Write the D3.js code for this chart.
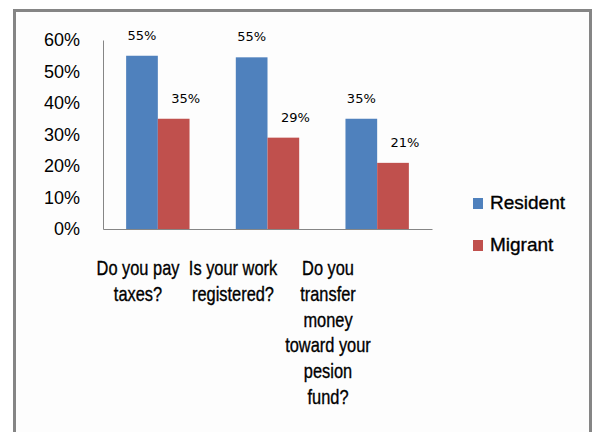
<!DOCTYPE html>
<html>
<head>
<meta charset="utf-8">
<script src="https://cdn.jsdelivr.net/npm/d3@7"></script>
<style>
  html, body { margin: 0; padding: 0; background: #ffffff; }
  svg { display: block; }
  .tick-label { font-family: "Liberation Sans", Arial, sans-serif; font-size: 18px; fill: #000; }
  .value-label { font-family: "DejaVu Sans", Verdana, sans-serif; font-size: 13px; fill: #000; }
  .cat-label { font-family: "Liberation Sans", Arial, sans-serif; font-size: 20px; fill: #000; stroke: #000; stroke-width: 0.35px; }
  .legend-label { font-family: "Liberation Sans", Arial, sans-serif; font-size: 19px; fill: #000; stroke: #000; stroke-width: 0.35px; }
</style>
</head>
<body>
<svg id="chart" width="595" height="432"></svg>
<script>
// Survey questions (each split into the lines it is printed on)
const categories = ["Do you pay taxes?", "Is your work registered?", "Do you transfer money toward your pesion fund?"];
const categoryLines = [
  ["Do you pay", "taxes?"],
  ["Is your work", "registered?"],
  ["Do you", "transfer", "money", "toward your", "pesion", "fund?"]
];
const seriesNames = ["Resident", "Migrant"];
const residentValues = [0.55, 0.545, 0.35];
const migrantValues = [0.35, 0.29, 0.21];
const tickValues = [0, 0.1, 0.2, 0.3, 0.4, 0.5, 0.6];
const colors = ["#4F81BD", "#C0504D"];

const seriesValues = [residentValues, migrantValues];
const rows = categories.map((c, i) => ({
  category: c,
  lines: categoryLines[i],
  values: seriesNames.map((s, j) => ({ series: s, value: seriesValues[j][i] }))
}));

const svg = d3.select("#chart");

// chart frame
svg.append("rect")
  .attr("x", 14.5).attr("y", 10.5)
  .attr("width", 576).attr("height", 440)
  .attr("fill", "#fdfdfd")
  .attr("stroke", "#858585")
  .attr("stroke-width", 3);

const plot = { left: 103, right: 432, top: 40, bottom: 229 };

const y = d3.scaleLinear().domain([0, 0.6]).range([plot.bottom, plot.top]);
const x0 = d3.scaleBand().domain(categories).range([plot.left, plot.right]).padding(0);
const x1 = d3.scaleBand().domain(seriesNames).range([0, x0.bandwidth()])
  .paddingInner(0).paddingOuter(0.73);
const color = d3.scaleOrdinal().domain(seriesNames).range(colors);
const fmt = v => Math.round(v * 100) + "%";

// y axis: labels only, plus the vertical axis line
const yAxis = svg.append("g")
  .attr("transform", `translate(${plot.left},0)`)
  .call(d3.axisLeft(y).tickValues(tickValues).tickFormat(d3.format(".0%"))
    .tickSize(0).tickPadding(23));
yAxis.select(".domain").attr("stroke", "#868686").attr("stroke-width", 1);
yAxis.selectAll(".tick text").attr("class", "tick-label").attr("font-family", null).attr("font-size", null);

// bars
const groups = svg.append("g").selectAll("g")
  .data(rows).join("g")
  .attr("transform", d => `translate(${x0(d.category)},0)`);

groups.selectAll("rect")
  .data(d => d.values).join("rect")
  .attr("x", d => x1(d.series))
  .attr("y", d => y(d.value))
  .attr("width", x1.bandwidth())
  .attr("height", d => y(0) - y(d.value))
  .attr("fill", d => color(d.series));

// value labels; the Migrant labels sit a little to the right of their bars
groups.selectAll("text")
  .data(d => d.values).join("text")
  .attr("class", "value-label")
  .attr("text-anchor", "middle")
  .attr("x", d => x1(d.series) + x1.bandwidth() / 2 + (d.series === "Migrant" ? 12 : 0))
  .attr("y", d => y(d.value) - 16)
  .text(d => fmt(d.value));

// x axis baseline
const xAxis = svg.append("g")
  .attr("transform", `translate(0,${plot.bottom})`)
  .call(d3.axisBottom(x0).tickSize(0).tickFormat(""));
xAxis.select(".domain").attr("stroke", "#868686").attr("stroke-width", 1);

// category labels, wrapped over several lines in a condensed face
const labelX = d3.scalePoint().domain(categories).range([138, 328]);
svg.append("g").selectAll("text")
  .data(rows).join("text")
  .attr("class", "cat-label")
  .attr("text-anchor", "middle")
  .attr("transform", d => `translate(${labelX(d.category)},275) scale(0.82,1)`)
  .selectAll("tspan")
  .data(d => d.lines).join("tspan")
  .attr("x", 0)
  .attr("y", (d, i) => i * 25.8)
  .text(d => d);

// legend
const legend = svg.append("g").attr("transform", "translate(473,198)");
const items = legend.selectAll("g").data(seriesNames).join("g")
  .attr("transform", (d, i) => `translate(0,${i * 42})`);
items.append("rect")
  .attr("width", 10).attr("height", 11)
  .attr("fill", d => color(d));
items.append("text")
  .attr("class", "legend-label")
  .attr("x", 17).attr("y", 11)
  .text(d => d);
</script>
</body>
</html>
